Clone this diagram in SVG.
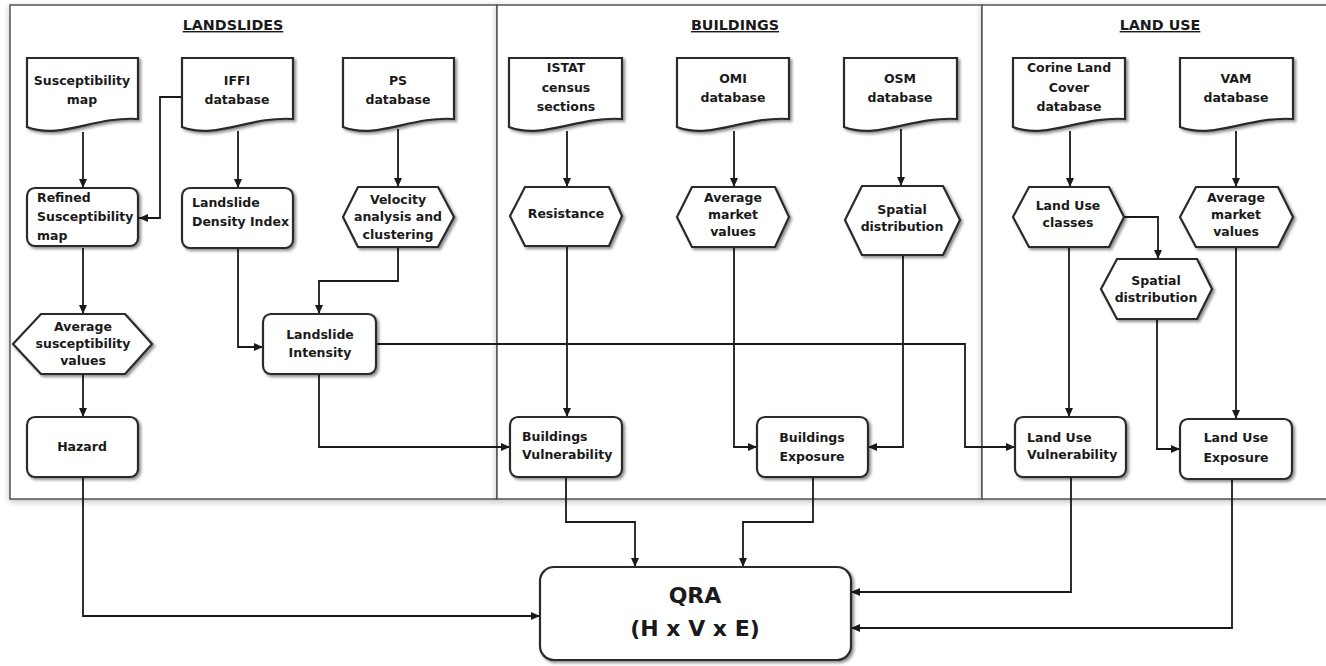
<svg xmlns="http://www.w3.org/2000/svg" width="1326" height="666" viewBox="0 0 1326 666">
<defs>
<style>
.panel{fill:#fff;stroke:#555;stroke-width:1.5;filter:url(#pshadow)}
.node{fill:#fff;stroke:#2a2a2a;stroke-width:2.2;filter:url(#nshadow)}
.t{font-family:"DejaVu Sans",sans-serif;font-weight:bold;font-size:12.5px;fill:#1a1a1a}
.c{text-anchor:middle}
.title{font-family:"DejaVu Sans",sans-serif;font-weight:bold;font-size:14.3px;fill:#1a1a1a;text-anchor:middle;text-decoration:underline}
.big{font-family:"DejaVu Sans",sans-serif;font-weight:bold;font-size:22px;fill:#1a1a1a;text-anchor:middle}
.conn path{fill:none;stroke:#1a1a1a;stroke-width:1.8}
.conn path.a{marker-end:url(#arr)}
</style>
<filter id="pshadow" x="-5%" y="-5%" width="110%" height="110%">
<feGaussianBlur in="SourceAlpha" stdDeviation="3"/>
<feOffset dx="0" dy="2" result="o"/>
<feFlood flood-color="#000" flood-opacity="0.25"/>
<feComposite in2="o" operator="in" result="s"/>
<feMerge><feMergeNode in="s"/><feMergeNode in="SourceGraphic"/></feMerge>
</filter>
<filter id="nshadow" x="-10%" y="-10%" width="125%" height="130%">
<feGaussianBlur in="SourceAlpha" stdDeviation="1.5"/>
<feOffset dx="2" dy="2" result="o"/>
<feFlood flood-color="#000" flood-opacity="0.45"/>
<feComposite in2="o" operator="in" result="s"/>
<feMerge><feMergeNode in="s"/><feMergeNode in="SourceGraphic"/></feMerge>
</filter>
<marker id="arr" markerUnits="userSpaceOnUse" markerWidth="9" markerHeight="8" refX="9" refY="4" orient="auto">
<path d="M0,0 L9,4 L0,8 z" fill="#1a1a1a"/>
</marker>
</defs>
<rect width="1326" height="666" fill="#fff"/>

<g id="panels">
<rect id="panel-landslides" class="panel" x="10" y="5" width="487" height="494"/>
<rect id="panel-buildings" class="panel" x="497" y="5" width="485" height="494"/>
<rect id="panel-landuse" class="panel" x="982" y="5" width="360" height="494"/>
<text class="title" x="233" y="30">LANDSLIDES</text>
<text class="title" x="735" y="30">BUILDINGS</text>
<text class="title" x="1160" y="30">LAND USE</text>
</g>

<g class="conn" id="connectors">
<path class="a" d="M83,132 V188"/>
<path class="a" d="M182,97 H160 V218 H139"/>
<path class="a" d="M238,131 V188"/>
<path class="a" d="M398,129 V187"/>
<path class="a" d="M83,248 V314"/>
<path class="a" d="M83,374 V417"/>
<path class="a" d="M238,248 V347 H263"/>
<path class="a" d="M398,247 V281 H319 V314"/>
<path class="a" d="M376,344 H965 V447 H1015"/>
<path class="a" d="M319,374 V447 H510"/>
<path class="a" d="M567,131 V187"/>
<path class="a" d="M734,131 V187"/>
<path class="a" d="M901,129 V186"/>
<path class="a" d="M567,246 V417"/>
<path class="a" d="M734,247 V447 H757"/>
<path class="a" d="M903,255 V447 H868"/>
<path class="a" d="M1070,131 V187"/>
<path class="a" d="M1236,131 V187"/>
<path class="a" d="M1124,217 H1158 V259"/>
<path class="a" d="M1069,247 V417"/>
<path class="a" d="M1157,319 V449 H1180"/>
<path class="a" d="M1236,247 V419"/>
<path class="a" d="M83,477 V616 H540"/>
<path class="a" d="M566,477 V522 H635 V567"/>
<path class="a" d="M813,477 V522 H743 V567"/>
<path class="a" d="M1071,477 V592 H851"/>
<path class="a" d="M1232,479 V628 H851"/>
</g>

<g id="n-susc-map">
<path class="node" d="M27,58 H138 V119 C94,116 61,140 27,127 Z"/>
<text class="t c" x="82" y="85">Susceptibility</text>
<text class="t c" x="82" y="104">map</text>
</g>
<g id="n-iffi">
<path class="node" d="M182,58 H293 V119 C249,116 216,140 182,127 Z"/>
<text class="t c" x="237" y="85">IFFI</text>
<text class="t c" x="237" y="104">database</text>
</g>
<g id="n-ps">
<path class="node" d="M343,58 H454 V119 C410,116 377,140 343,127 Z"/>
<text class="t c" x="398" y="85">PS</text>
<text class="t c" x="398" y="104">database</text>
</g>
<g id="n-refined">
<rect class="node" x="27" y="188" width="111" height="58" rx="8"/>
<text class="t" x="37" y="202">Refined</text>
<text class="t" x="37" y="221">Susceptibility</text>
<text class="t" x="37" y="240">map</text>
</g>
<g id="n-ldi">
<rect class="node" x="182" y="188" width="111" height="60" rx="8"/>
<text class="t" x="192" y="207">Landslide</text>
<text class="t" x="192" y="226">Density Index</text>
</g>
<g id="n-velocity">
<path class="node" d="M358,187 H438 L454,217 L438,247 H358 L343,217 Z"/>
<text class="t c" x="398" y="204">Velocity</text>
<text class="t c" x="398" y="221">analysis and</text>
<text class="t c" x="398" y="239">clustering</text>
</g>
<g id="n-avg-susc">
<path class="node" d="M41,314 H125 L152,344 L125,374 H41 L13,344 Z"/>
<text class="t c" x="83" y="331">Average</text>
<text class="t c" x="83" y="348">susceptibility</text>
<text class="t c" x="83" y="365">values</text>
</g>
<g id="n-hazard">
<rect class="node" x="27" y="417" width="111" height="60" rx="8"/>
<text class="t c" x="82" y="451">Hazard</text>
</g>
<g id="n-intensity">
<rect class="node" x="263" y="314" width="113" height="60" rx="8"/>
<text class="t c" x="320" y="339">Landslide</text>
<text class="t c" x="320" y="357">Intensity</text>
</g>

<g id="n-istat">
<path class="node" d="M509,58 H622 V119 C577,116 543,140 509,127 Z"/>
<text class="t c" x="566" y="72">ISTAT</text>
<text class="t c" x="566" y="92">census</text>
<text class="t c" x="566" y="111">sections</text>
</g>
<g id="n-omi">
<path class="node" d="M677,58 H789 V119 C744,116 711,140 677,127 Z"/>
<text class="t c" x="733" y="83">OMI</text>
<text class="t c" x="733" y="102">database</text>
</g>
<g id="n-osm">
<path class="node" d="M844,58 H957 V119 C912,116 878,140 844,127 Z"/>
<text class="t c" x="900" y="83">OSM</text>
<text class="t c" x="900" y="102">database</text>
</g>
<g id="n-resistance">
<path class="node" d="M525,187 H609 L622,216 L609,246 H525 L510,216 Z"/>
<text class="t c" x="566" y="218">Resistance</text>
</g>
<g id="n-avg-market-b">
<path class="node" d="M692,187 H775 L789,217 L775,247 H692 L677,217 Z"/>
<text class="t c" x="733" y="202">Average</text>
<text class="t c" x="733" y="219">market</text>
<text class="t c" x="733" y="236">values</text>
</g>
<g id="n-spatial-b">
<path class="node" d="M862,186 H943 L960,220 L943,255 H862 L845,220 Z"/>
<text class="t c" x="902" y="214">Spatial</text>
<text class="t c" x="902" y="231">distribution</text>
</g>
<g id="n-bvuln">
<rect class="node" x="510" y="417" width="112" height="60" rx="8"/>
<text class="t" x="522" y="441">Buildings</text>
<text class="t" x="522" y="459">Vulnerability</text>
</g>
<g id="n-bexp">
<rect class="node" x="757" y="417" width="111" height="60" rx="8"/>
<text class="t c" x="812" y="442">Buildings</text>
<text class="t c" x="812" y="461">Exposure</text>
</g>

<g id="n-corine">
<path class="node" d="M1013,58 H1125 V119 C1080,116 1047,140 1013,127 Z"/>
<text class="t c" x="1069" y="72">Corine Land</text>
<text class="t c" x="1069" y="92">Cover</text>
<text class="t c" x="1069" y="111">database</text>
</g>
<g id="n-vam">
<path class="node" d="M1180,58 H1293 V119 C1248,116 1214,140 1180,127 Z"/>
<text class="t c" x="1236" y="83">VAM</text>
<text class="t c" x="1236" y="102">database</text>
</g>
<g id="n-luclasses">
<path class="node" d="M1029,187 H1109 L1124,217 L1109,247 H1029 L1013,217 Z"/>
<text class="t c" x="1068" y="210">Land Use</text>
<text class="t c" x="1068" y="227">classes</text>
</g>
<g id="n-avg-market-lu">
<path class="node" d="M1196,187 H1278 L1293,217 L1278,247 H1196 L1180,217 Z"/>
<text class="t c" x="1236" y="202">Average</text>
<text class="t c" x="1236" y="219">market</text>
<text class="t c" x="1236" y="236">values</text>
</g>
<g id="n-spatial-lu">
<path class="node" d="M1117,259 H1197 L1212,289 L1197,319 H1117 L1101,289 Z"/>
<text class="t c" x="1156" y="285">Spatial</text>
<text class="t c" x="1156" y="302">distribution</text>
</g>
<g id="n-luvuln">
<rect class="node" x="1015" y="417" width="111" height="60" rx="8"/>
<text class="t" x="1027" y="442">Land Use</text>
<text class="t" x="1027" y="459">Vulnerability</text>
</g>
<g id="n-luexp">
<rect class="node" x="1180" y="419" width="112" height="60" rx="8"/>
<text class="t c" x="1236" y="442">Land Use</text>
<text class="t c" x="1236" y="462">Exposure</text>
</g>

<g id="n-qra">
<rect class="node" x="540" y="567" width="311" height="93" rx="14"/>
<text class="big" x="695" y="603">QRA</text>
<text class="big" x="695" y="636">(H x V x E)</text>
</g>
</svg>
